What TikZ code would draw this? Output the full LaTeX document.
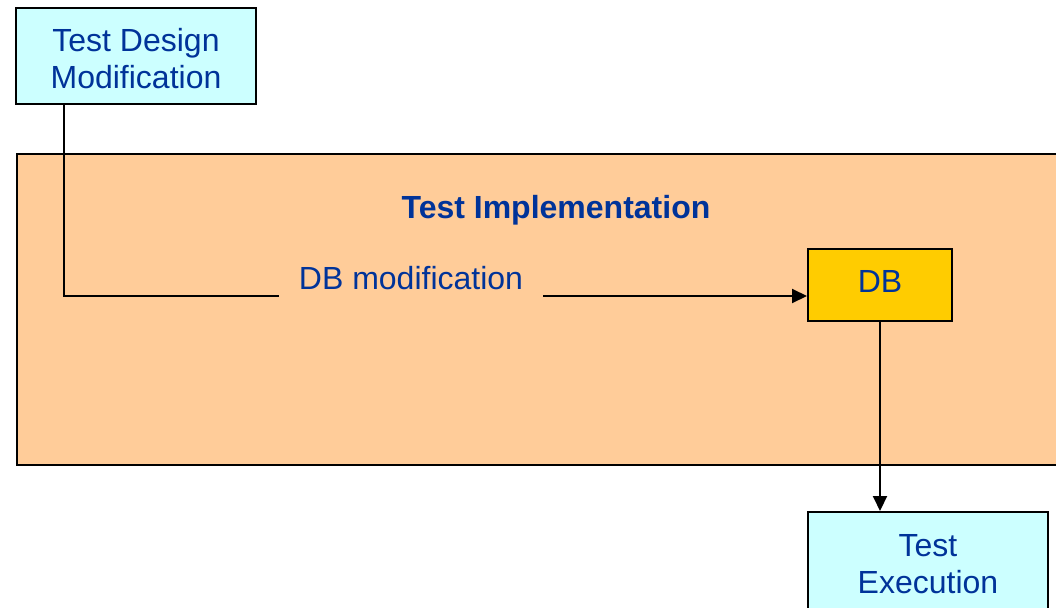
\documentclass[tikz,border=0pt]{standalone}
\usepackage{fontspec}
\setmainfont{Liberation Sans}
\usetikzlibrary{arrows.meta}
\definecolor{txtblue}{RGB}{0,51,153}
\definecolor{cyanbox}{RGB}{204,255,255}
\definecolor{orangebg}{RGB}{255,204,153}
\definecolor{dbyellow}{RGB}{255,204,0}
\tikzset{
  box/.style={draw=black, line width=2pt, inner sep=0pt, align=center,
    text=txtblue, font=\fontsize{32}{37}\selectfont},
  lbl/.style={text=txtblue, font=\fontsize{32}{37}\selectfont, inner sep=0pt},
  conn/.style={line width=2pt},
  tip/.style={-{Triangle[length=15pt,width=14pt]}}
}
\begin{document}
\begin{tikzpicture}[x=1pt,y=-1pt]
\useasboundingbox (0,0) rectangle (1056,607);
\clip (0,0) rectangle (1056,607);

% Test implementation area
\node[box, fill=orangebg, minimum width=1060pt, minimum height=311pt, anchor=north west]
  (impl) at (16,153) {};
\node[lbl, font=\fontsize{32}{37}\selectfont\bfseries, anchor=base] (title) at (556,218) {Test Implementation};

% boxes
\node[box, fill=cyanbox, minimum width=240pt, minimum height=96pt] (tdm) at (136,56)
  {\rule{0pt}{29pt}Test Design\\Modification};
\node[box, fill=dbyellow, minimum width=144pt, minimum height=72pt, text depth=8pt] (db) at (880,285) {DB};
\node[box, fill=cyanbox, minimum width=240pt, minimum height=104pt] (te) at (928,564)
  {Test\\Execution};

% connector label
\node[lbl, anchor=base, inner xsep=20pt] (mod) at (411,289) {DB modification};
\coordinate (bend) at (64,296);

% connectors
\draw[conn] (tdm.south -| bend) -- (bend) -- (mod.west |- bend);
\draw[conn, tip] (mod.east |- bend) -- (db.west |- bend);
\draw[conn, tip] (db.south) -- (te.north -| db.south);
\end{tikzpicture}
\end{document}
